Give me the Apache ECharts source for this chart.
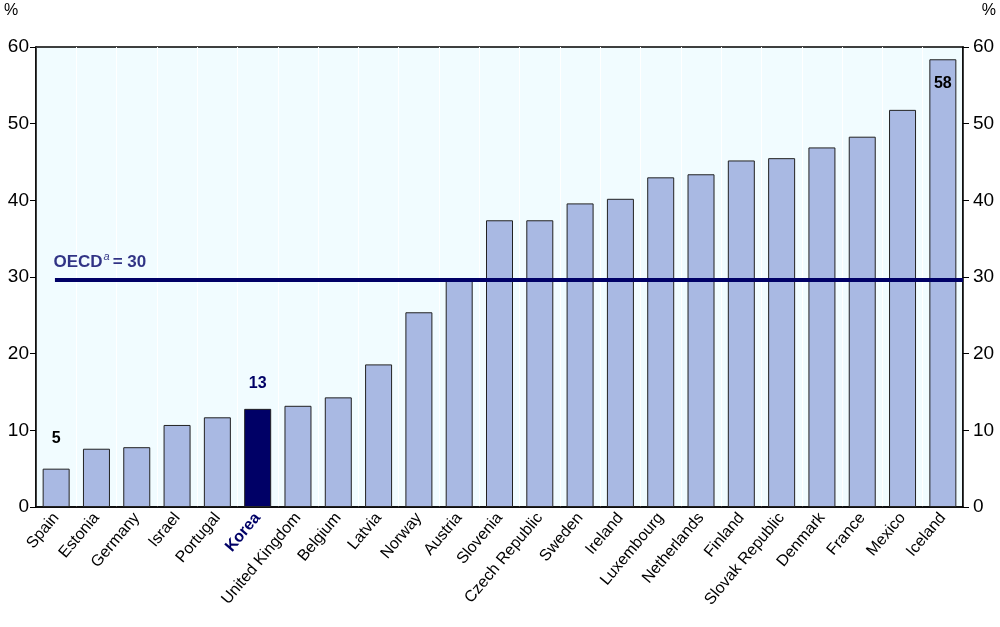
<!DOCTYPE html>
<html><head><meta charset="utf-8">
<script src="https://cdn.jsdelivr.net/npm/echarts@6/dist/echarts.min.js"></script>
<style>html,body{margin:0;padding:0;background:#fff}#c{width:1000px;height:627px}</style>
</head><body><div id="c"></div>
<script>
const categories = ["Spain","Estonia","Germany","Israel","Portugal","Korea","United Kingdom","Belgium","Latvia","Norway","Austria","Slovenia","Czech Republic","Sweden","Ireland","Luxembourg","Netherlands","Finland","Slovak Republic","Denmark","France","Mexico","Iceland"];
const values = [5.0,7.6,7.8,10.7,11.7,12.8,13.2,14.3,18.6,25.4,29.5,37.4,37.4,39.6,40.2,43.0,43.4,45.2,45.5,46.9,48.3,51.8,58.4];
const oecdValue = 29.6;
const oecdLabel = 'OECD';
const FONT = '"Liberation Sans Narrow","Arial Narrow","Liberation Sans",Arial,sans-serif';
const NAVY = '#000066';
const BAR = '#A9B9E3';

const barData = values.map((v,i)=>{
  const c = categories[i];
  const d = {value:v};
  if (c==='Korea') { d.itemStyle={color:NAVY}; d.label={show:true,position:'top',distance:17,color:NAVY,formatter:'13'}; }
  if (c==='Spain') { d.label={show:true,position:'top',distance:22,color:'#000',formatter:'5'}; }
  if (c==='Iceland') { d.label={show:true,position:'insideTop',distance:16,color:'#000',formatter:'58'}; }
  return d;
});

const chart = echarts.init(document.getElementById('c'));
chart.setOption({
  animation:false,
  textStyle:{fontFamily:FONT},
  grid:{left:36,right:37,top:47,bottom:120,show:true,backgroundColor:'#F1FCFF',borderColor:'#000',borderWidth:1.5},
  xAxis:[{
    type:'category',data:categories,boundaryGap:true,
    axisLine:{show:true,lineStyle:{color:'#000',width:1.5}},
    axisTick:{show:false},
    splitLine:{show:true,lineStyle:{color:'#ffffff',width:1}},
    axisLabel:{interval:0,rotate:50,margin:8,fontSize:16,color:'#000',fontFamily:FONT,
      formatter:v=> v==='Korea' ? '{k|'+v+'}' : v,
      rich:{k:{color:NAVY,fontWeight:'bold',fontSize:16,fontFamily:FONT}}}
  },{
    type:'value',min:0,max:23,show:false
  }],
  yAxis:[{
    type:'value',min:0,max:60,interval:10,position:'left',
    axisLine:{show:true,lineStyle:{color:'#000',width:1.5}},
    axisTick:{show:true,inside:false,length:6,lineStyle:{color:'#000'}},
    splitLine:{show:false},
    axisLabel:{fontSize:19,color:'#000',margin:7,fontFamily:FONT}
  },{
    type:'value',min:0,max:60,interval:10,position:'right',
    axisLine:{show:true,lineStyle:{color:'#000',width:1.5}},
    axisTick:{show:true,inside:false,length:6,lineStyle:{color:'#000'}},
    splitLine:{show:false},
    axisLabel:{fontSize:19,color:'#000',margin:10,fontFamily:FONT}
  }],
  series:[{
    type:'bar',data:barData,barWidth:27,xAxisIndex:0,yAxisIndex:0,
    itemStyle:{color:BAR,borderColor:'#222',borderWidth:1},
    label:{show:false,fontSize:16,fontWeight:'bold',fontFamily:FONT}
  },{
    type:'line',xAxisIndex:1,yAxisIndex:0,symbol:'none',
    lineStyle:{color:NAVY,width:4},
    data:[[0.47,oecdValue],[23,oecdValue]],
    z:5
  },{
    type:'scatter',xAxisIndex:1,yAxisIndex:0,symbol:'circle',symbolSize:1,
    itemStyle:{color:'rgba(0,0,0,0)'},
    data:[[0.47,oecdValue]],
    label:{show:true,position:'right',distance:0,offset:[-2,-18],
      formatter:'{a|'+oecdLabel+'}{s|a}{a|= 30}',
      rich:{a:{color:NAVY,fontWeight:'bold',fontSize:17,fontFamily:FONT},
            s:{color:NAVY,fontSize:11,fontStyle:'italic',verticalAlign:'top',padding:[0,3,10,1],fontFamily:FONT}}},
    z:6
  }],
  graphic:[
    {type:'text',left:4,top:3,style:{text:'%',fontSize:16,fill:'#000',fontFamily:FONT}},
    {type:'text',right:4,top:3,style:{text:'%',fontSize:16,fill:'#000',fontFamily:FONT}}
  ]
});
</script></body></html>
